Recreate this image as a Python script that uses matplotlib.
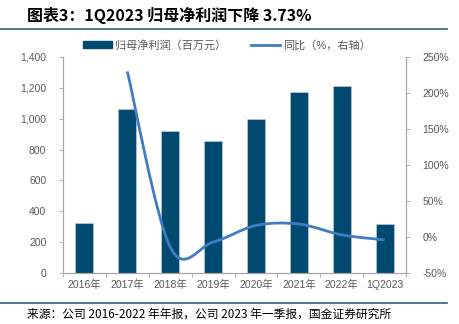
import matplotlib.pyplot as plt
from matplotlib.path import Path
from matplotlib.patches import PathPatch, Patch
from matplotlib.lines import Line2D
import numpy as np

plt.rcParams['font.family'] = ['Liberation Sans', 'Noto Sans CJK SC', 'DejaVu Sans']

# data
categories = ['2016年', '2017年', '2018年', '2019年', '2020年', '2021年', '2022年', '1Q2023']
profit = [325, 1065, 920, 855, 995, 1175, 1210, 320]
yoy = [None, 230, -14, -7, 16, 18, 3, -4]

bar_color = '#004A70'
line_color = '#3F7CC0'
grey = '#595959'

fig = plt.figure(figsize=(4.59, 3.24), dpi=100)
ax = fig.add_axes([63 / 459, 1 - 273 / 324, 343 / 459, 216 / 324])
ax2 = ax.twinx()

x = np.arange(len(categories))
ax.bar(x, profit, width=0.42, color=bar_color, edgecolor='#c8d6e0', linewidth=0.4, zorder=2)
ax.set_xlim(-0.5, len(categories) - 0.5)
ax.set_ylim(0, 1400)
ax.set_yticks(range(0, 1401, 200))
ax.set_yticklabels([f'{v:,}' for v in range(0, 1401, 200)])
ax.set_xticks(x)
ax.set_xticklabels(categories)
ax.set_xticks(np.arange(-0.5, len(categories)), minor=True)

# smoothed yoy line (catmull-rom as bezier path)
px = [i for i, v in enumerate(yoy) if v is not None]
py = [v for v in yoy if v is not None]
pts = list(zip(px, py))
verts = [pts[0]]
codes = [Path.MOVETO]
for i in range(len(pts) - 1):
    p0 = pts[i - 1] if i > 0 else pts[i]
    p1 = pts[i]
    p2 = pts[i + 1]
    p3 = pts[i + 2] if i + 2 < len(pts) else pts[i + 1]
    c1 = (p1[0] + (p2[0] - p0[0]) / 6, p1[1] + (p2[1] - p0[1]) / 6)
    c2 = (p2[0] - (p3[0] - p1[0]) / 6, p2[1] - (p3[1] - p1[1]) / 6)
    verts += [c1, c2, p2]
    codes += [Path.CURVE4] * 3
ax2.add_patch(PathPatch(Path(verts, codes), facecolor='none', edgecolor=line_color,
                        linewidth=2, zorder=3, transform=ax2.transData))
ax2.set_ylim(-50, 250)
ax2.set_yticks(range(-50, 251, 50))
ax2.set_yticklabels([f'{v}%' for v in range(-50, 251, 50)])

for a in (ax, ax2):
    a.spines['top'].set_visible(False)
    for s in ['left', 'right', 'bottom']:
        a.spines[s].set_color('#a6a6a6')
        a.spines[s].set_linewidth(0.8)
    a.tick_params(axis='both', which='both', colors='#a6a6a6', labelcolor=grey,
                  labelsize=7.5, length=3, width=0.6)
ax.tick_params(axis='x', which='major', length=0, pad=5)
ax.tick_params(axis='x', which='minor', length=3)
ax.tick_params(axis='y', pad=9)
ax2.tick_params(axis='y', pad=9)

handles = [Patch(color=bar_color), Line2D([0], [0], color=line_color, lw=2)]
fig.legend(handles, ['归母净利润（百万元）', '同比（%，右轴）'], loc='center',
           bbox_to_anchor=(0.495, 1 - 45 / 324), ncol=2, frameon=False,
           fontsize=8, labelcolor=grey, handlelength=2.6, handletextpad=0.3,
           columnspacing=2.2)

fig.text(27 / 459, 1 - 15 / 324, '图表3：1Q2023 归母净利润下降 3.73%', fontsize=11.5,
         fontweight='bold', style='italic', va='center', ha='left',
         family=['Noto Sans CJK SC', 'DejaVu Sans'])
fig.add_artist(Line2D([0, 447 / 459], [1 - 29 / 324] * 2, color='#2F5F80', lw=1.2))
fig.add_artist(Line2D([0, 447 / 459], [1 - 303 / 324] * 2, color='#2F5F80', lw=1.2))
fig.text(27 / 459, 1 - 314 / 324, '来源：公司 2016-2022 年年报，公司 2023 年一季报，国金证券研究所',
         fontsize=8.5, va='center', ha='left', family=['Noto Sans CJK SC', 'DejaVu Sans'])

fig.savefig('out.png', dpi=100)
